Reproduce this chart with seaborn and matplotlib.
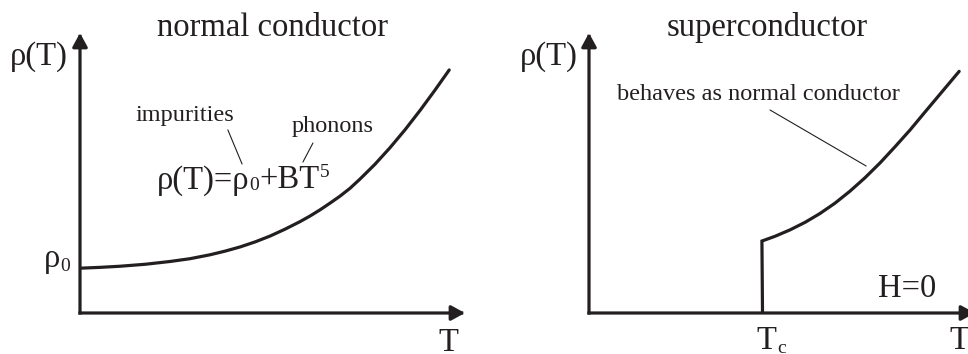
import matplotlib
matplotlib.use("Agg")
import matplotlib.pyplot as plt
import seaborn as sns
import pandas as pd

# Resistivity vs temperature for a normal metal (arbitrary units, 0-100)
T_normal = [0.0, 5.2, 10.4, 16.9, 23.4, 28.6, 33.8, 37.7, 41.6, 45.5, 49.4,
            53.2, 57.1, 59.7, 62.3, 64.9, 67.5, 70.1, 72.7, 76.6, 80.5, 84.4,
            88.3, 92.2, 95.9]
rho_normal = [16.0, 16.3, 16.7, 17.4, 18.4, 19.4, 20.8, 22.1, 23.6, 25.4,
              27.5, 29.9, 32.6, 34.6, 36.8, 39.2, 41.7, 44.5, 47.8, 53.1,
              59.0, 65.4, 72.3, 79.6, 86.8]

# Resistivity vs temperature for a superconductor: zero below Tc
T_super = [44.95, 44.8, 48.2, 52.1, 56.0, 59.8, 63.7, 67.6, 71.5, 75.4,
           79.3, 83.2, 87.0, 90.9, 95.9]
rho_super = [0.0, 25.7, 27.4, 29.7, 32.4, 35.5, 39.2, 43.5, 48.3, 53.6,
             59.4, 65.4, 71.7, 78.1, 86.3]

titles = ["normal conductor", "superconductor"]

INK = "#231f20"

sns.set_theme(style="white")
plt.rcParams["font.family"] = ["Liberation Serif", "DejaVu Serif"]

fig = plt.figure(figsize=(9.68, 3.54), dpi=100)
ax1 = fig.add_axes([80 / 968, 41 / 354, 385 / 968, 280 / 354])
ax2 = fig.add_axes([589 / 968, 41 / 354, 386 / 968, 280 / 354])

BIG = 23.5
SMALL = 17.5
SCRIPT = 14

df1 = pd.DataFrame({"T": T_normal, "rho": rho_normal})
df2 = pd.DataFrame({"T": T_super, "rho": rho_super})
sns.lineplot(data=df1, x="T", y="rho", ax=ax1, color=INK, lw=2.3,
             estimator=None, sort=False, solid_joinstyle="round")
sns.lineplot(data=df2, x="T", y="rho", ax=ax2, color=INK, lw=2.3,
             estimator=None, sort=False, solid_joinstyle="miter")

for ax in (ax1, ax2):
    ax.set_xlim(0, 100)
    ax.set_ylim(0, 100)
    ax.set_axis_off()
    arrow = dict(arrowstyle="-|>,head_length=0.55,head_width=0.3",
                 lw=2.3, color=INK, shrinkA=0, shrinkB=0,
                 mutation_scale=15, capstyle="projecting")
    ax.annotate("", xy=(100, 0), xytext=(0, 0), xycoords="data",
                arrowprops=arrow, annotation_clip=False)
    ax.annotate("", xy=(0, 100), xytext=(0, 0), xycoords="data",
                arrowprops=arrow, annotation_clip=False)


def chain(ax, x, y, parts):
    """Write text pieces one after another on a shared baseline.

    Each part is (string, fontsize, vertical offset in points)."""
    s, size, dy = parts[0]
    prev = ax.annotate(s, xy=(x, y), xycoords="data",
                       xytext=(0, dy), textcoords="offset points",
                       fontsize=size, ha="left", va="baseline", color=INK,
                       annotation_clip=False)
    for s, size, dy in parts[1:]:
        prev = ax.annotate(s, xy=(1, y), xycoords=(prev, "data"),
                           xytext=(0, dy), textcoords="offset points",
                           fontsize=size, ha="left", va="baseline",
                           color=INK, annotation_clip=False)
    return prev


# Left panel labels
ax1.text(50, 98.9, titles[0], fontsize=BIG, ha="center", va="baseline",
         color=INK, clip_on=False)
ax1.text(-18.2, 88.6, "ρ(T)", fontsize=BIG, ha="left", va="baseline",
         color=INK, clip_on=False)
chain(ax1, -9.4, 16.4, [("ρ", BIG, 0), ("0", SCRIPT, -2.5)])
ax1.text(95.6, -13.4, "T", fontsize=BIG, ha="center", va="baseline",
         color=INK, clip_on=False)
chain(ax1, 20.0, 44.5, [("ρ(T)=ρ", BIG, 0), ("0", SCRIPT, -1.2),
                        ("+BT", BIG, 0), ("5", SCRIPT, 8.5)])
ax1.text(27.3, 68.6, "impurities", fontsize=SMALL, ha="center",
         va="baseline", color=INK, clip_on=False)
ax1.text(65.5, 64.8, "phonons", fontsize=SMALL, ha="center",
         va="baseline", color=INK, clip_on=False)
ax1.plot([38.4, 42.1], [65.4, 53.2], color=INK, lw=0.8)
ax1.plot([60.5, 57.9], [60.7, 53.9], color=INK, lw=0.8)

# Right panel labels
ax2.text(46.2, 98.9, titles[1], fontsize=BIG, ha="center", va="baseline",
         color=INK, clip_on=False)
ax2.text(-17.9, 88.6, "ρ(T)", fontsize=BIG, ha="left", va="baseline",
         color=INK, clip_on=False)
ax2.text(7.25, 76.1, "behaves as normal conductor", fontsize=SMALL,
         ha="left", va="baseline", color=INK, clip_on=False)
ax2.plot([46.9, 71.8], [72.5, 52.5], color=INK, lw=0.8)
ax2.text(74.9, 5.8, "H=0", fontsize=BIG, ha="left", va="baseline",
         color=INK, clip_on=False)
chain(ax2, 43.5, -12.9, [("T", BIG, 0), ("c", SCRIPT, -2.5)])
ax2.text(93.5, -12.9, "T", fontsize=BIG, ha="left", va="baseline",
         color=INK, clip_on=False)

fig.savefig("out.png", dpi=100, facecolor="white")
